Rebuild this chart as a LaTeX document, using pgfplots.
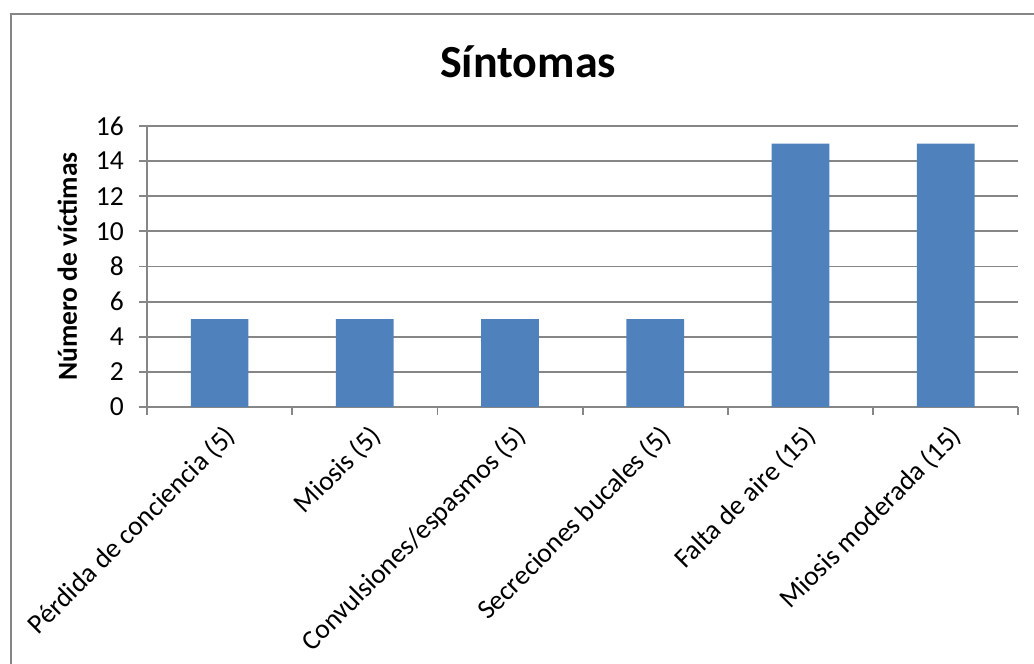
\documentclass[border=0pt]{standalone}
\usepackage{fontspec}
\setmainfont{Carlito}
\usepackage{pgfplots}
\pgfplotsset{compat=1.18}
\definecolor{barblue}{HTML}{4F81BD}
\definecolor{gridgray}{HTML}{868686}
\begin{document}
\begin{tikzpicture}[x=1pt,y=1pt]
\useasboundingbox (0,0) rectangle (1034,664);
\begin{scope}
\clip (0,0) rectangle (1034,664);
\draw[gridgray, line width=2pt] (11,-20) -- (11,650) -- (1060,650);
\end{scope}
\node[font=\fontsize{46}{52}\selectfont\bfseries, anchor=base] at (528,586) {Síntomas};
\begin{axis}[
  at={(147pt,257pt)}, anchor=origin,
  width=871.3pt, height=281pt, scale only axis,
  xmin=0, xmax=6, ymin=0, ymax=16,
  axis x line*=bottom, axis y line*=left,
  axis line style={gridgray, line width=1.8pt, -},
  ytick={0,2,...,16},
  ymajorgrids,
  grid style={gridgray, line width=1.8pt},
  tick align=outside,
  major tick length=8pt,
  tick style={gridgray, line width=1.8pt},
  xtick={0,1,...,6},
  xticklabels={,,,,,,},
  extra x ticks={0.5,1.5,2.5,3.5,4.5,5.5},
  extra x tick labels={Pérdida de conciencia (5),Miosis (5),Convulsiones/espasmos (5),Secreciones bucales (5),Falta de aire (15),Miosis moderada (15)},
  extra x tick style={major tick length=0pt, grid=none},
  xticklabel style={font=\fontsize{27.5}{32}\selectfont, rotate=45, anchor=north east, inner sep=0pt, xshift=-9.2pt, yshift=-13.4pt},
  yticklabel style={font=\fontsize{27.5}{32}\selectfont, anchor=east, inner sep=0pt, xshift=-15pt},
  /pgf/number format/assume math mode=true,
  ylabel={Número de víctimas},
  ylabel style={font=\fontsize{27.5}{32}\selectfont\bfseries, at={(axis description cs:0,0.5)}, anchor=base, yshift=70pt},
  ybar, bar width=57.7pt,
  clip=false,
]
\addplot[fill=barblue, draw=none] coordinates {(0.5,5) (1.5,5) (2.5,5) (3.5,5) (4.5,15) (5.5,15)};
\end{axis}
\end{tikzpicture}
\end{document}
